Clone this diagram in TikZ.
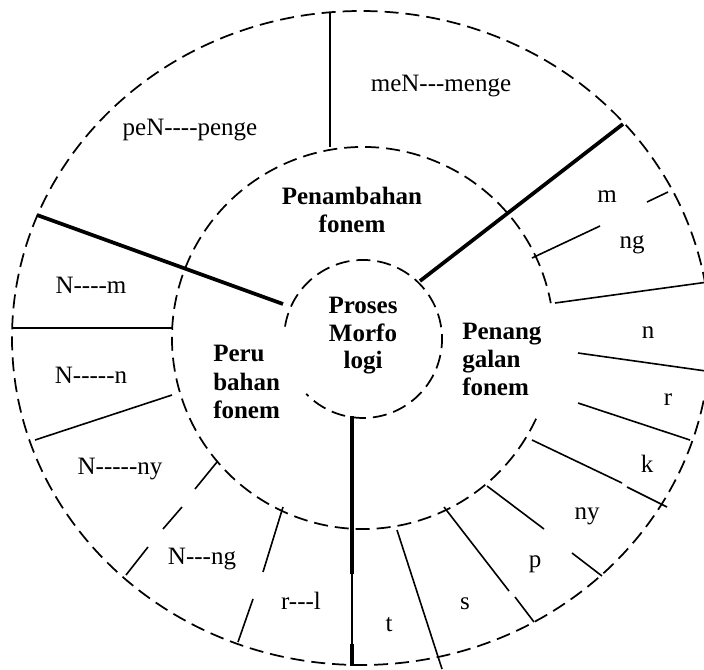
\documentclass[tikz,border=0pt]{standalone}
\usepackage{fontspec}
\setmainfont{Liberation Serif}[Ligatures=TeXOff]
\begin{document}
\begin{tikzpicture}[x=0.75pt,y=-0.75pt,
  ring/.style={line width=1.3pt,dash pattern=on 10.5pt off 5.25pt},
  thin/.style={line width=1.2pt},
  thick/.style={line width=2.8pt},
  longdash/.style={line width=1.2pt},
  lbl/.style={inner sep=0pt,anchor=base,font=\fontsize{18.75}{21}\selectfont},
  head/.style={inner sep=0pt,anchor=base,font=\fontsize{18.75}{21}\selectfont\bfseries},
  headl/.style={head,anchor=base west}]
\useasboundingbox (0,0) rectangle (704,669);
\clip (0,0) rectangle (704,669);

% rings
\coordinate (oc) at (361,338);
\coordinate (mc) at (363,338);
\coordinate (ic) at (363,339);
\draw[ring] (oc) ellipse [x radius=349, y radius=327];
\draw[ring] (536.1,418.7) arc[start angle=25, end angle=349.5, radius=191];
\draw[ring] (285.0,326.6) arc[start angle=189, end angle=496, radius=79];

% main dividers
\draw[thick] (37,215) -- (283,304);
\draw[thick] (623,124) -- (420,281);
\draw[thick] (352,416) -- (352,574);
\draw[thin]  (352,574) -- (352,644);
\draw[thick] (352,644) -- (352,666);

% Penambahan fonem
\draw[thin] (330,12) -- (330,147);

% Perubahan fonem
\draw[thin] (13,328) -- (172,328);
\draw[thin] (35,440) -- (172,395);
\draw[thin] (217,462) -- (195,489);
\draw[thin] (182,507) -- (163,529);
\draw[thin] (148,547) -- (126,575);
\draw[thin] (283,507) -- (263,572);
\draw[thin] (253,599) -- (238,642);

% Penanggalan fonem
\draw[thin] (397,530) -- (442,669);
\draw[thin] (444,507) -- (509,591);
\draw[thin] (515,597) -- (534,622);
\draw[thin] (487,486) -- (544,529);
\draw[thin] (572,553) -- (602,576);
\draw[thin] (532,440) -- (622,483);
\draw[thin] (627,487) -- (667,507);
\draw[thin] (578,403) -- (690,440);
\draw[thin] (578,353) -- (706,371);
\draw[thin] (555,303) -- (708,282);
\draw[thin] (532,258) -- (600,226);
\draw[thin] (647,202) -- (668,192);

% centre
\node[head] (pm1) at (363,313) {Proses};
\node[head] (pm2) at (363,341) {Morfo};
\node[head] (pm3) at (363,368) {logi};

% section headings
\node[head] (pa1) at (352,204) {Penambahan};
\node[head] (pa2) at (352,232) {fonem};
\node[headl] (pr1) at (213,361) {Peru};
\node[headl] (pr2) at (213,390) {bahan};
\node[headl] (pr3) at (213,418) {fonem};
\node[headl] (pg1) at (462,339) {Penang};
\node[headl] (pg2) at (462,367) {galan};
\node[headl] (pg3) at (462,395) {fonem};

% outer labels
\node[lbl] (t1) at (441,91) {meN---menge};
\node[lbl] (t2) at (190,135) {peN----penge};
\node[lbl] (t3) at (91,293) {N----m};
\node[lbl] (t4) at (91,383) {N-----n};
\node[lbl] (t5) at (120,474) {N-----ny};
\node[lbl] (t6) at (202,564) {N---ng};
\node[lbl] (t7) at (301,609) {r---l};
\node[lbl] (t8) at (389,631) {t};
\node[lbl] (t9) at (465,609) {s};
\node[lbl] (t10) at (535,567) {p};
\node[lbl] (t11) at (587,519) {ny};
\node[lbl] (t12) at (647,472) {k};
\node[lbl] (t13) at (668,405) {r};
\node[lbl] (t14) at (648,338) {n};
\node[lbl] (t15) at (607,202) {m};
\node[lbl] (t16) at (632,248) {ng};
\end{tikzpicture}
\end{document}
